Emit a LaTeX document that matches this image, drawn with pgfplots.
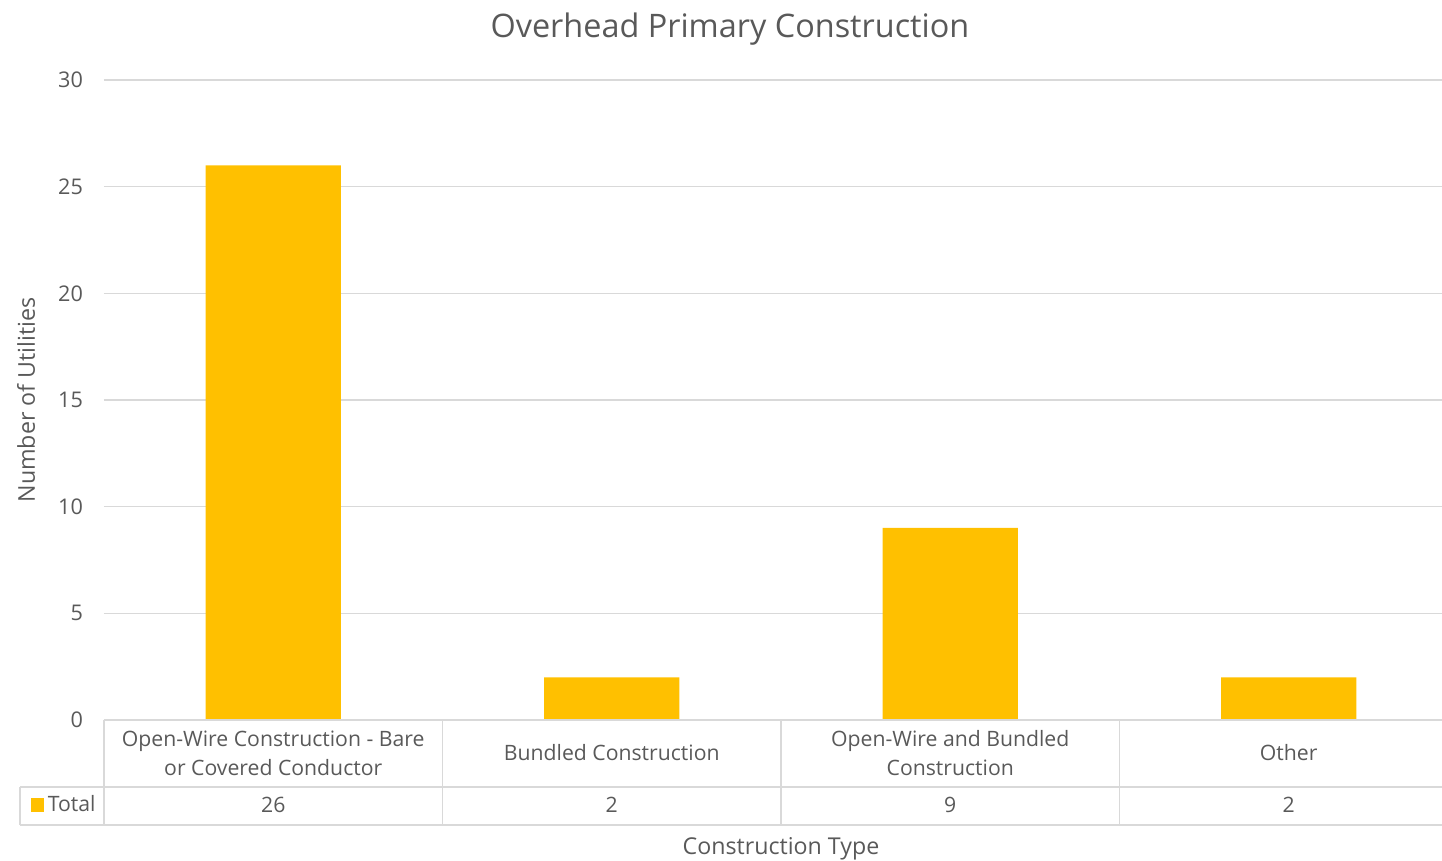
\documentclass[border=0pt]{standalone}
\usepackage{pgfplots}
\pgfplotsset{compat=1.18}
\usepackage{fontspec}
\setmainfont{Open Sans}
\definecolor{txt}{HTML}{595959}
\definecolor{gridc}{HTML}{D9D9D9}
\definecolor{bar}{HTML}{FFC000}
\begin{document}
\begin{tikzpicture}
\useasboundingbox (-52pt,-70.5pt) rectangle (669pt,360pt);
\begin{axis}[
  at={(0,0)}, anchor=south west,
  scale only axis, width=677pt, height=320pt,
  xmin=-0.5, xmax=3.5, ymin=0, ymax=30,
  ytick={0,5,...,30},
  xtick={0,1,2,3},
  xticklabels={{Open-Wire Construction - Bare\\or Covered Conductor},{Bundled Construction},{Open-Wire and Bundled\\Construction},{Other}},
  xticklabel style={anchor=center, align=center, yshift=-16.5pt, font=\fontsize{10.6pt}{14.5pt}\selectfont, text=txt},
  yticklabel style={font=\fontsize{10.8pt}{12pt}\selectfont, text=txt, xshift=-7pt},
  /pgf/number format/assume math mode=true,
  major tick length=0pt,
  ymajorgrids, grid style={gridc, line width=0.7pt},
  axis line style={draw=none},
  axis x line*=bottom, axis y line*=left,
  clip=false,
  title={Overhead Primary Construction},
  every axis title/.style={at={(axis description cs:0.4623,1)}, anchor=center, yshift=25.5pt, font=\fontsize{16.2pt}{19pt}\selectfont, text=txt},
  xlabel={Construction Type},
  every axis x label/.style={at={(axis description cs:0.5,0)}, anchor=center, yshift=-64.5pt, font=\fontsize{11.6pt}{13pt}\selectfont, text=txt},
  ylabel={Number of Utilities},
  every axis y label/.style={at={(axis description cs:-0.0576,0.5)}, anchor=center, rotate=90, font=\fontsize{11.6pt}{13pt}\selectfont, text=txt},
  legend style={at={(axis description cs:0,0)}, anchor=east, xshift=-2pt, yshift=-42.5pt, draw=none, fill=none, inner sep=0pt, font=\fontsize{10.6pt}{12pt}\selectfont, text=txt, legend cell align=left},
  legend image code/.code={\fill[bar] (0pt,-3.3pt) rectangle (6.6pt,3.3pt);},
]
\addplot[ybar, bar width=0.4, fill=bar, draw=none] coordinates {(0,26) (1,2) (2,9) (3,2)};
\addlegendentry{Total}
% data table value row
\addplot[draw=none, mark=none, forget plot, nodes near coords, point meta=explicit symbolic,
  every node near coord/.append style={anchor=center, font=\fontsize{10.6pt}{12pt}\selectfont, text=txt}]
  coordinates {(0,-3.98)[26] (1,-3.98)[2] (2,-3.98)[9] (3,-3.98)[2]};
% table borders
\draw[gridc, line width=0.9pt] (axis cs:-0.5,0) -- (axis cs:3.5,0);
\draw[gridc, line width=0.9pt] (axis cs:-0.748,-3.14) -- (axis cs:3.5,-3.14);
\draw[gridc, line width=0.9pt] (axis cs:-0.748,-4.92) -- (axis cs:3.5,-4.92);
\draw[gridc, line width=0.9pt] (axis cs:-0.748,-3.14) -- (axis cs:-0.748,-4.92);
\draw[gridc, line width=0.9pt] (axis cs:-0.5,0) -- (axis cs:-0.5,-4.92);
\draw[gridc, line width=0.9pt] (axis cs:0.5,0) -- (axis cs:0.5,-4.92);
\draw[gridc, line width=0.9pt] (axis cs:1.5,0) -- (axis cs:1.5,-4.92);
\draw[gridc, line width=0.9pt] (axis cs:2.5,0) -- (axis cs:2.5,-4.92);
\end{axis}
\end{tikzpicture}
\end{document}
